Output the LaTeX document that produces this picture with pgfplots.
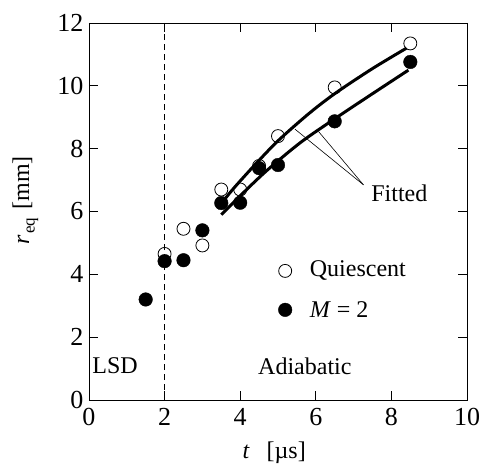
\documentclass[border=0pt]{standalone}
\usepackage{fontspec}
\setmainfont{Liberation Serif}
\usepackage{pgfplots}
\pgfplotsset{compat=1.18}
\begin{document}
\begin{tikzpicture}
\begin{axis}[
  scale only axis, width=378bp, height=377bp,
  xmin=0, xmax=10, ymin=0, ymax=12,
  xtick={0,2,...,10}, ytick={0,2,...,12},
  tick align=inside, major tick length=9bp,
  xtick pos=both, ytick pos=both,
  xticklabel pos=bottom, yticklabel pos=left,
  /pgf/number format/assume math mode=true,
  tick label style={font=\fontsize{26bp}{30bp}\selectfont},
  xticklabel style={yshift=-5bp},
  yticklabel style={xshift=-2bp},
  label style={font=\fontsize{24bp}{28bp}\selectfont},
  xlabel={\textit{t}\hspace{0.7em}[µs]},
  ylabel={\textit{r}\hspace{1bp}\raisebox{-0.5ex}{\fontsize{17bp}{20bp}\selectfont eq}\hspace{0.35em}[mm]},
  xlabel style={at={(axis description cs:0.49,-0.14)}, anchor=center},
  ylabel style={at={(axis description cs:-0.168,0.53)}, anchor=center},
  axis line style={line width=0.8bp},
  every tick/.style={line width=0.8bp, black},
  clip=false,
]
% LSD / Adiabatic boundary
\addplot[black, line width=0.8bp, dash pattern=on 6bp off 4bp] coordinates {(2,0) (2,12)};
% fitted curves
\addplot[black, line width=3bp, smooth] coordinates {
 (3.4,6.1) (3.8,6.7) (4.4,7.5) (5.0,8.25) (5.8,9.1) (6.5,9.75) (7.5,10.55) (8.4,11.2)};
\addplot[black, line width=3bp, smooth] coordinates {
 (3.5,5.9) (4.0,6.5) (4.7,7.3) (5.6,8.2) (6.5,8.95) (7.5,9.75) (8.45,10.5)};
% Fitted leader lines
\addplot[black, line width=0.6bp] coordinates {(7.26,6.85) (5.45,8.62)};
\addplot[black, line width=0.6bp] coordinates {(7.26,6.85) (6.07,8.55)};
% Quiescent (open)
\addplot[only marks, mark=o, mark size=6.5bp, mark options={line width=0.8bp, fill=white}] coordinates {
 (2,4.65) (2.5,5.45) (3,4.92) (3.5,6.7) (4,6.7) (4.5,7.45) (5,8.4) (6.5,9.95) (8.5,11.35)};
% M = 2 (filled)
\addplot[only marks, mark=*, mark size=6.8bp, mark options={black}] coordinates {
 (1.5,3.2) (2,4.42) (2.5,4.45) (3,5.4) (3.5,6.27) (4,6.28) (4.5,7.38) (5,7.48) (6.5,8.87) (8.5,10.76)};
% legend markers
\addplot[only marks, mark=o, mark size=6.5bp, mark options={line width=0.8bp}] coordinates {(5.19,4.11)};
\addplot[only marks, mark=*, mark size=6.8bp, mark options={black}] coordinates {(5.19,2.87)};
\node[anchor=west, font=\fontsize{24bp}{28bp}\selectfont] at (axis cs:5.75,4.11) {Quiescent};
\node[anchor=west, font=\fontsize{24bp}{28bp}\selectfont] at (axis cs:5.75,2.87) {\textit{M} = 2};
\node[font=\fontsize{24bp}{28bp}\selectfont] at (axis cs:8.21,6.59) {Fitted};
\node[font=\fontsize{24bp}{28bp}\selectfont] at (axis cs:0.69,1.08) {LSD};
\node[font=\fontsize{24bp}{28bp}\selectfont] at (axis cs:5.71,1.08) {Adiabatic};
\coordinate (bl) at (rel axis cs:-0.2354,-0.1857);
\coordinate (tr) at (rel axis cs:1.037,1.061);
\end{axis}
\pgfresetboundingbox
\path (bl) rectangle (tr);
\end{tikzpicture}
\end{document}
